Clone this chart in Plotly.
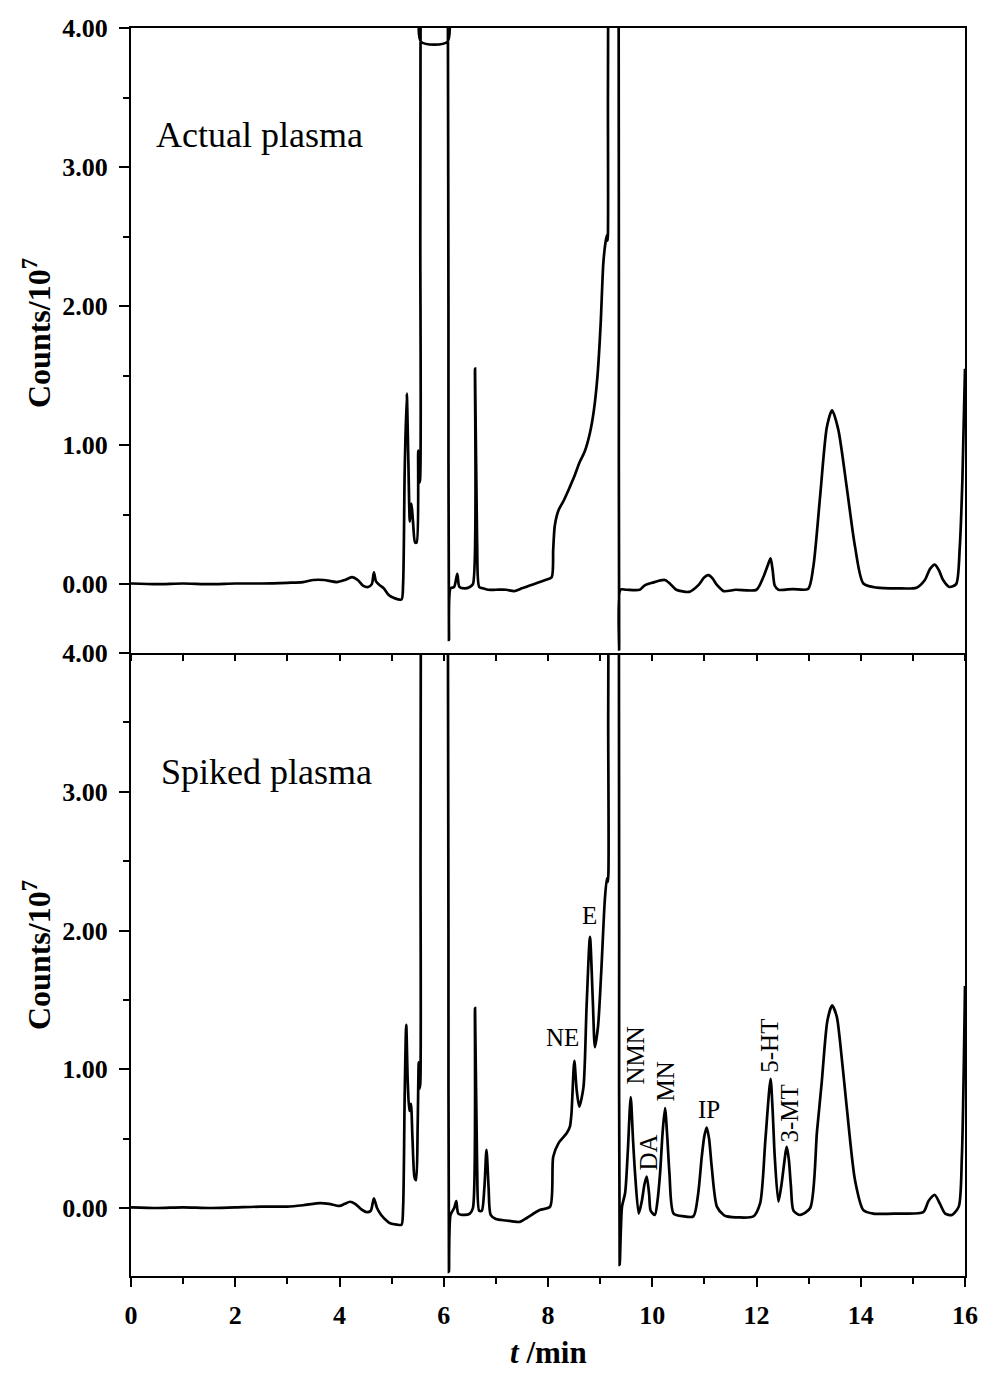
import plotly.graph_objects as go

# ---------------- data (t in min, counts in 1e7) ----------------
t_actual = [0.0, 0.5, 1.0, 1.5, 2.0, 2.5, 3.0, 3.3, 3.5, 3.7, 3.95, 4.1, 4.24, 4.35, 4.45, 4.55,
            4.62, 4.66, 4.7, 4.78, 4.85, 4.95, 5.05, 5.19, 5.22, 5.25, 5.29, 5.32, 5.35, 5.38,
            5.41, 5.45, 5.48, 5.51, 5.53, 5.545, 5.55, 5.555, 5.56, 5.565, 6.07, 6.075, 6.08,
            6.09, 6.1, 6.13, 6.2,
            6.26, 6.3, 6.4, 6.5, 6.56, 6.6, 6.64, 6.68, 6.75, 6.85, 7.0, 7.2, 7.35, 7.5, 7.65,
            7.8, 7.95, 8.07, 8.1, 8.13, 8.2, 8.3, 8.42, 8.5, 8.61, 8.7, 8.8, 8.88, 8.95, 9.01,
            9.06, 9.1, 9.13, 9.145, 9.15, 9.155, 9.16, 9.35, 9.355, 9.36, 9.365, 9.39, 9.5,
            9.76, 9.85, 10.0, 10.24, 10.35,
            10.46, 10.71, 10.89, 11.0, 11.08, 11.16, 11.24, 11.37, 11.6, 12.0, 12.13, 12.22,
            12.27, 12.31, 12.35, 12.42, 12.7, 12.99, 13.09, 13.22, 13.35, 13.45, 13.57, 13.73,
            13.89, 14.05, 14.31, 14.7, 15.07, 15.23, 15.33, 15.42, 15.5, 15.58, 15.7, 15.83,
            15.9, 15.95, 16.0]
counts_actual = [0.005, 0.0, 0.005, 0.0, 0.005, 0.005, 0.01, 0.015, 0.03, 0.03, 0.015, 0.03, 0.05,
                 0.03, -0.01, -0.02, 0.0, 0.085, 0.02, -0.01, -0.03, -0.08, -0.1, -0.11, 0.0, 0.8,
                 1.37, 0.9, 0.45, 0.58, 0.45, 0.3, 0.3, 0.96, 0.73, 0.75, 2.5, 4.0, 4.3, 3.9,
                 3.9, 4.3, 4.0, 2.0, -0.4, -0.03, -0.02,
                 0.075, -0.02, -0.03, -0.02, 0.0, 1.55, 0.3, -0.02, -0.03,
                 -0.04, -0.04, -0.04, -0.05, -0.03, -0.01, 0.01, 0.03, 0.05, 0.25, 0.42, 0.53, 0.6,
                 0.7, 0.77, 0.88, 0.95, 1.08, 1.25, 1.5, 1.87, 2.3, 2.45, 2.51, 2.47, 3.5, 4.3,
                 5.0, 5.0, 4.3, 2.0, -0.47, -0.04, -0.04,
                 -0.04, -0.01, 0.01, 0.03, 0.0, -0.04, -0.055, -0.005, 0.05,
                 0.065, 0.04, -0.005, -0.05, -0.04, -0.04, 0.05, 0.14, 0.185, 0.1, -0.01, -0.04,
                 -0.035, -0.035, 0.125, 0.63, 1.13, 1.25, 1.11, 0.7, 0.27, 0.005, -0.025, -0.03,
                 -0.025, 0.03, 0.11, 0.14, 0.1, 0.03, -0.02, 0.0, 0.27, 0.75, 1.55]

t_spiked = [0.0, 0.5, 1.0, 1.5, 2.0, 2.5, 3.0, 3.3, 3.63, 3.8, 4.0, 4.1, 4.2, 4.3, 4.42, 4.52, 4.6,
            4.66, 4.72, 4.8, 4.9, 4.97, 5.1, 5.19, 5.22, 5.25, 5.28, 5.31, 5.34, 5.37, 5.4, 5.44,
            5.47, 5.5, 5.52, 5.535, 5.55, 5.555, 5.56, 5.565, 6.075, 6.08, 6.09, 6.1, 6.13, 6.2,
            6.24, 6.28, 6.4, 6.5, 6.56,
            6.6, 6.64, 6.68, 6.73, 6.78, 6.82, 6.86, 6.9, 7.0, 7.2, 7.4, 7.46, 7.6, 7.84, 8.04,
            8.1, 8.2, 8.36, 8.42, 8.45, 8.505, 8.55, 8.6, 8.68, 8.74, 8.805, 8.86, 8.9, 8.96,
            9.02, 9.09, 9.13, 9.15, 9.155, 9.16, 9.165, 9.355, 9.36, 9.365, 9.375, 9.42, 9.48,
            9.53, 9.587, 9.63, 9.67,
            9.74, 9.8, 9.85, 9.894, 9.94, 9.97, 10.05, 10.1, 10.15, 10.2, 10.245, 10.29, 10.33,
            10.41, 10.6, 10.79, 10.88, 10.95, 11.0, 11.045, 11.09, 11.14, 11.24, 11.37, 11.43,
            11.94, 12.07, 12.17, 12.27, 12.31, 12.35, 12.42, 12.48, 12.58, 12.62, 12.66, 12.71,
            12.84, 13.03, 13.16, 13.25, 13.36, 13.45, 13.54, 13.6, 13.73, 13.89, 14.05, 14.24,
            14.7, 15.2, 15.3, 15.42, 15.52, 15.62, 15.75, 15.88, 15.94, 16.0]
counts_spiked = [0.005, 0.0, 0.005, 0.0, 0.005, 0.01, 0.01, 0.02, 0.035, 0.03, 0.015, 0.03, 0.045,
                 0.03, -0.01, -0.03, -0.02, 0.07, 0.0, -0.05, -0.09, -0.11, -0.12, -0.12, 0.0, 0.8,
                 1.32, 0.9, 0.7, 0.75, 0.5, 0.22, 0.2, 0.6, 1.05, 0.86, 0.9, 2.5, 4.2, 5.0, 5.0,
                 4.2, 2.0, -0.46, -0.05, 0.0, 0.05, -0.04, -0.05, -0.04, 0.0,
                 1.44, 0.3, -0.02, -0.02, 0.15, 0.42, 0.15,
                 -0.05, -0.08, -0.09, -0.1, -0.1, -0.07, -0.015, 0.01, 0.37, 0.466, 0.54, 0.586,
                 0.68, 1.06, 0.85, 0.73, 0.87, 1.45, 1.955, 1.49, 1.16, 1.31, 1.69, 2.22, 2.376,
                 2.35, 3.5, 4.3, 5.0, 5.0, 4.3, 2.0, -0.41, 0.01, 0.11, 0.4, 0.8, 0.5, 0.25,
                 -0.04, 0.05, 0.17, 0.226,
                 0.1, -0.02, -0.05, 0.05, 0.25, 0.55, 0.72, 0.5, 0.25, -0.04, -0.06, -0.06, 0.1,
                 0.37, 0.52, 0.58, 0.5, 0.3, 0.01, -0.05, -0.06, -0.06, 0.035, 0.49, 0.93, 0.7,
                 0.37, 0.045, 0.17, 0.44, 0.35, 0.16, -0.02, -0.05, 0.0, 0.55, 0.9, 1.35, 1.46,
                 1.38, 1.21, 0.73, 0.2, -0.015, -0.04, -0.04, -0.03, 0.05, 0.094, 0.03, -0.04,
                 -0.05, 0.01, 0.37, 1.6]

panel_labels = ["Actual plasma", "Spiked plasma"]
peak_names = ["NE", "E", "NMN", "DA", "MN", "IP", "5-HT", "3-MT"]
peak_label_t = [8.27, 8.79, 9.67, 9.92, 10.26, 11.09, 12.26, 12.64]
peak_label_v = [1.23, 2.11, 1.10, 0.40, 0.91, 0.71, 1.17, 0.68]
peak_label_rot = [0, 0, -90, -90, -90, 0, -90, -90]

y_tickvals = [0, 1, 2, 3, 4]
y_ticktext = ["0.00", "1.00", "2.00", "3.00", "4.00"]
x_tickvals = [0, 2, 4, 6, 8, 10, 12, 14, 16]

# ---------------- figure ----------------
SERIF = "Liberation Serif"
LINE = dict(color="black", width=2.7, shape="spline", smoothing=0.7)
fig = go.Figure()
fig.add_trace(go.Scatter(x=t_actual, y=counts_actual, mode="lines", line=LINE,
                         xaxis="x", yaxis="y", showlegend=False))
fig.add_trace(go.Scatter(x=t_spiked, y=counts_spiked, mode="lines", line=LINE,
                         xaxis="x2", yaxis="y2", showlegend=False))

split = 623 / 1248
tickfont = dict(family=SERIF, size=26, color="black", weight="bold")

yax_common = dict(range=[-0.495, 4.0], tickvals=y_tickvals, ticktext=y_ticktext,
                  ticks="outside", ticklen=10, tickwidth=2, tickcolor="black",
                  minor=dict(dtick=0.5, tick0=0, ticks="outside", ticklen=6, tickwidth=2,
                             tickcolor="black"),
                  showline=True, linewidth=2, linecolor="black", mirror=True,
                  showgrid=False, zeroline=False, tickfont=tickfont, ticklabelstandoff=6,
                  automargin=False)

fig.update_layout(
    width=982, height=1373,
    margin=dict(l=131, r=17, t=28, b=97),
    paper_bgcolor="white", plot_bgcolor="white",
    xaxis=dict(domain=[0, 1], anchor="y", range=[0, 16], dtick=1, tick0=0,
               ticks="outside", ticklen=6, tickwidth=2, tickcolor="black",
               showticklabels=False, showline=True, linewidth=2, linecolor="black",
               mirror=True, showgrid=False, zeroline=False, automargin=False),
    yaxis=dict(domain=[split, 1], anchor="x", **yax_common),
    xaxis2=dict(domain=[0, 1], anchor="y2", range=[0, 16], tickvals=x_tickvals,
                ticks="outside", ticklen=9, tickwidth=2, tickcolor="black",
                minor=dict(dtick=1, tick0=0, ticks="outside", ticklen=6, tickwidth=2,
                           tickcolor="black"),
                showline=True, linewidth=2, linecolor="black", mirror=False,
                showgrid=False, zeroline=False, tickfont=tickfont, ticklabelstandoff=6,
                automargin=False),
    yaxis2=dict(domain=[0, split], anchor="x2", **dict(yax_common, range=[-0.49, 4.0])),
)

annotations = []
# panel labels
annotations.append(dict(x=2.47, y=3.23, xref="x", yref="y", text=panel_labels[0],
                        showarrow=False, font=dict(family=SERIF, size=36, color="black")))
annotations.append(dict(x=2.59, y=3.14, xref="x2", yref="y2", text=panel_labels[1],
                        showarrow=False, font=dict(family=SERIF, size=36, color="black")))
# peak labels
for name, tx, vy, rot in zip(peak_names, peak_label_t, peak_label_v, peak_label_rot):
    annotations.append(dict(x=tx, y=vy, xref="x2", yref="y2", text=name, textangle=rot,
                            xanchor="center", yanchor="middle", showarrow=False,
                            font=dict(family=SERIF, size=25, color="black")))
# axis titles
for yc in [(1276 - 333) / 1248, (1276 - 955) / 1248]:
    annotations.append(dict(x=(37 - 131) / 834, y=yc, xref="paper", yref="paper",
                            xanchor="center", yanchor="middle",
                            text="Counts/10<sup>7</sup>", textangle=-90, showarrow=False,
                            font=dict(family=SERIF, size=32, color="black", weight="bold")))
annotations.append(dict(x=(548 - 131) / 834, y=(1276 - 1352) / 1248, xref="paper", yref="paper",
                        xanchor="center", yanchor="middle",
                        text="<i>t</i> /min", showarrow=False,
                        font=dict(family=SERIF, size=31, color="black", weight="bold")))
fig.update_layout(annotations=annotations)

fig.write_html("out.html")
